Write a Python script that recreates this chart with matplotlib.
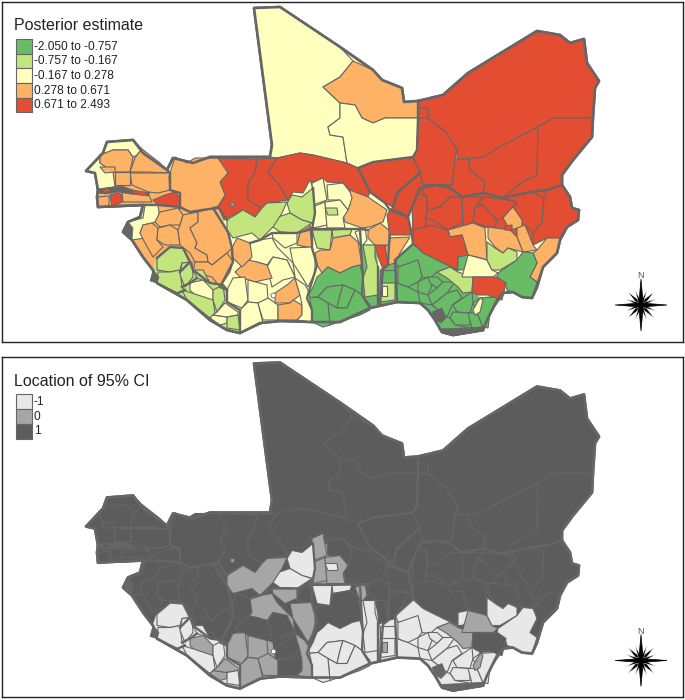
import matplotlib
matplotlib.use('Agg')
from matplotlib import pyplot as plt
from matplotlib.patches import Polygon, Rectangle

plt.rcParams['font.family'] = ['Liberation Sans', 'DejaVu Sans']

estimate_labels = ['-2.050 to -0.757', '-0.757 to -0.167', '-0.167 to 0.278', '0.278 to 0.671', '0.671 to 2.493']
estimate_colors = ['#69bc66', '#c2e57e', '#ffffbe', '#feb266', '#e34e32']
ci_labels = ['-1', '0', '1']
ci_colors = ['#e8e8e8', '#a6a6a6', '#5c5c5c']

# map outline, in map units
outline = [(254,8),(280,7),(340,47),(373,70),(382,80),(402,88),(404,102),(418,101),(443,95),(468,73),(537,31),
           (560,35),(570,43),(584,39),(587,63),(599,81),(595,88),(593,117),(592,137),(573,160),(562,175),(562,185),
           (570,197),(572,208),(579,210),(578,220),(567,227),(560,240),(557,253),(543,267),(537,287),(532,298),
           (522,297),(513,292),(503,293),(497,300),(487,320),(483,330),(453,335),(442,332),(435,320),(428,310),
           (420,303),(397,302),(370,308),(340,322),(313,322),(280,321),(260,323),(240,333),(227,330),(210,320),
           (187,300),(157,283),(153,270),(143,257),(132,240),(123,232),(128,222),(140,217),(143,205),(98,207),
           (97,197),(98,190),(95,173),(86,171),(103,153),(107,142),(133,140),(143,153),(167,170),(173,158),
           (193,163),(210,157),(270,157),(272,145)]

# large areas under the districts, so that no gap shows between them
backing_shapes = [
    [(143,205),(217,208),(228,232),(233,262),(220,287),(193,272),(190,262),(183,248),(170,247),(157,258),(153,270),(132,240),(145,238)],
    [(157,258),(170,247),(183,248),(190,262),(193,270),(210,283),(223,285),(227,290),(227,302),(240,310),(240,333),(227,330),(210,320),(187,300),(157,283),(153,270)],
    [(227,290),(233,278),(245,277),(255,282),(272,287),(275,303),(278,320),(260,323),(240,333),(240,310),(227,302)],
    [(395,260),(413,244),(458,270),(447,278),(458,287),(463,293),(472,292),(480,298),(503,295),(497,300),(487,320),(483,330),(453,335),(442,332),(435,320),(428,310),(420,303),(397,302)],
    [(412,207),(420,188),(437,185),(450,188),(462,197),(483,193),(503,198),(530,192),(547,190),(562,185),(570,197),(572,208),(579,210),(578,220),(567,227),(560,238),(547,238),(533,245),(517,237),(510,230),(488,227),(485,228),(473,223),(448,230),(413,243)],
    [(100,155),(133,157),(143,153),(167,170),(170,190),(180,207),(143,205),(98,207),(97,193),(115,187),(113,172)],
    [(313,188),(350,190),(350,205),(343,215),(345,228),(312,228)],
    [(363,245),(375,245),(378,267),(380,305),(370,308),(362,295),(363,277),(360,245)],
    [(380,269),(395,263),(397,302),(378,305)],
    [(418,101),(443,95),(428,118),(418,118)],
]
backing_estimate = [3, 1, 2, 0, 4, 3, 2, 0, 0, 4]
backing_ci = [2, 0, 1, 0, 2, 2, 1, 0, 0, 2]

# Sahel and Niger
north_shapes = [
    [(254,8),(280,7),(340,47),(353,61),(340,77),(323,87),(340,103),(340,118),(328,127),(330,135),(343,137),(347,163),(313,155),(300,153),(277,158),(270,157),(272,145)],
    [(353,61),(373,70),(382,80),(402,88),(404,102),(418,101),(418,118),(385,118),(373,123),(362,118),(355,105),(340,103),(323,87),(340,77)],
    [(340,103),(355,105),(362,118),(373,123),(385,118),(418,118),(417,150),(413,157),(373,162),(358,168),(347,163),(343,137),(330,135),(328,127),(340,118)],
    [(217,158),(257,159),(255,173),(248,183),(248,200),(262,208),(255,217),(243,210),(224,220),(218,207),(224,197),(220,182),(228,173)],
    [(257,159),(277,158),(268,173),(278,183),(288,200),(267,203),(262,208),(248,200),(248,183),(255,173)],
    [(277,158),(300,153),(313,155),(347,163),(358,168),(365,182),(370,192),(368,197),(350,190),(343,183),(327,182),(323,178),(313,188),(310,180),(303,193),(293,192),(288,200),(278,183),(268,173)],
    [(358,168),(373,162),(413,157),(420,173),(397,193),(393,207),(385,203),(370,192),(365,182)],
    [(418,118),(428,118),(447,133),(457,150),(455,160),(452,185),(423,185),(420,173),(413,157),(417,150)],
    [(418,101),(443,95),(468,73),(537,31),(560,35),(570,43),(584,39),(587,63),(599,81),(595,88),(593,118),(553,118),(538,127),(500,147),(483,157),(468,159),(457,159),(457,150),(447,133),(428,118),(428,108),(419,108)],
    [(468,159),(483,157),(500,147),(538,127),(537,175),(522,182),(503,198),(483,193),(485,182),(470,170)],
    [(553,118),(593,118),(592,137),(573,160),(562,175),(562,185),(547,190),(530,192),(503,198),(522,182),(537,175),(538,127)],
    [(457,159),(468,159),(470,170),(485,182),(483,193),(462,197),(450,188),(437,185),(452,185),(455,160)],
    [(397,193),(420,173),(423,185),(437,185),(420,188),(412,207),(408,217),(397,210),(390,210),(393,207)],
]
north_estimate = [2, 3, 2, 4, 4, 4, 4, 4, 4, 4, 4, 4, 4]
north_ci = [2] * 13

# northern and central Nigeria
nigeria_shapes = [
    [(412,207),(418,193),(427,197),(427,217),(425,227),(413,230)],
    [(420,188),(437,185),(450,188),(462,197),(450,197),(440,207),(428,210),(427,197)],
    [(440,207),(450,197),(462,197),(463,222),(448,230),(433,220),(425,218),(428,210)],
    [(462,197),(483,197),(478,203),(475,210),(473,222),(463,227)],
    [(475,207),(483,205),(497,220),(495,227),(487,227),(473,222)],
    [(483,197),(503,199),(517,202),(510,210),(503,218),(497,220),(483,205),(478,203)],
    [(503,198),(530,192),(544,197),(542,223),(533,233),(522,223),(522,220),(513,207),(517,202)],
    [(547,190),(562,185),(570,197),(572,208),(579,210),(578,220),(567,227),(560,238),(547,238),(533,245),(533,233),(542,223),(544,197)],
    [(513,207),(522,220),(522,227),(510,230),(503,218),(510,210)],
    [(517,228),(525,225),(533,245),(537,250),(523,252),(517,237)],
    [(488,227),(510,230),(517,237),(523,252),(508,248),(503,253),(495,247),(488,238)],
    [(448,230),(473,223),(485,228),(487,260),(477,257),(468,255),(462,235),(450,237)],
    [(560,238),(557,253),(543,267),(537,282),(530,277),(537,263),(533,253),(537,250),(547,238)],
    [(413,230),(425,227),(430,225),(448,230),(450,237),(462,235),(468,255),(458,257),(457,270),(443,263),(423,253),(413,243)],
    [(505,226),(512,225),(512,230),(505,230)],
]
nigeria_estimate = [4, 4, 4, 4, 4, 4, 4, 4, 3, 3, 3, 3, 3, 4, 4]
nigeria_ci = [2] * 15

# southern Nigeria and Benin
south_shapes = [
    [(395,260),(413,244),(423,253),(443,263),(458,270),(450,267),(437,272),(430,278),(422,277),(418,262),(398,267),(397,264)],
    [(398,267),(418,260),(422,277),(418,282),(408,287),(402,285),(398,283)],
    [(397,283),(402,285),(408,287),(418,292),(420,303),(397,302)],
    [(418,282),(428,277),(432,285),(428,295),(418,292)],
    [(428,277),(437,277),(443,282),(437,288),(430,283)],
    [(443,282),(455,282),(447,293),(432,305),(428,295),(437,288)],
    [(447,293),(457,290),(462,298),(452,305),(447,317),(438,310),(432,305)],
    [(463,298),(472,292),(473,303),(470,313),(457,312),(453,305)],
    [(453,312),(470,313),(470,325),(455,325),(450,318)],
    [(468,313),(477,313),(483,327),(472,328)],
    [(480,298),(493,297),(503,295),(490,313),(488,328),(483,327),(477,313),(473,303)],
    [(420,303),(432,305),(447,317),(450,318),(455,325),(472,328),(483,330),(453,335),(442,332),(435,320),(428,310)],
    [(437,272),(450,267),(458,272),(473,277),(472,292),(463,293),(458,287),(447,278)],
    [(458,257),(468,255),(470,265),(462,270),(458,270)],
    [(462,277),(468,255),(487,260),(492,270),(498,273),(493,277),(473,277)],
    [(487,242),(495,248),(503,253),(508,248),(517,252),(517,260),(500,270),(492,270),(487,260)],
    [(498,273),(517,260),(523,252),(533,253),(537,263),(530,277),(537,282),(532,298),(522,297),(513,292),(507,290),(505,283),(497,277)],
    [(473,277),(497,277),(506,283),(502,300),(488,295),(477,295),(472,292)],
    [(473,310),(480,298),(483,300),(480,312),(475,315)],
]
south_estimate = [0, 0, 0, 0, 0, 0, 0, 0, 0, 0, 0, 0, 1, 0, 2, 1, 0, 4, 2]
south_ci = [0, 0, 0, 0, 0, 0, 0, 0, 0, 0, 0, 0, 1, 0, 1, 0, 0, 2, 1]

# Benin, Togo and Ghana
ghana_shapes = [
    [(388,238),(410,237),(400,253),(395,263),(388,265),(385,250)],
    [(375,245),(385,245),(388,265),(383,269),(378,257)],
    [(368,230),(380,223),(389,230),(389,245),(375,245),(368,238)],
    [(390,210),(397,210),(408,217),(412,235),(390,235),(389,230),(387,215)],
    [(350,190),(368,197),(387,210),(383,222),(370,227),(362,228),(345,222),(343,215),(350,205)],
    [(363,245),(375,245),(375,257),(378,267),(378,295),(365,297),(363,278),(367,267)],
    [(380,270),(395,270),(395,283),(380,283)],
    [(380,283),(395,283),(395,300),(380,302)],
    [(382,286),(387,286),(387,296),(382,296)],
    [(355,232),(365,228),(367,240),(363,245),(360,245)],
    [(312,230),(332,230),(330,250),(317,248)],
    [(332,230),(352,229),(350,235),(333,238)],
    [(315,253),(320,250),(330,250),(333,238),(350,235),(358,242),(362,265),(352,267),(340,273),(328,267),(322,273),(317,265)],
    [(300,227),(310,225),(312,248),(298,245)],
    [(307,298),(313,287),(317,277),(322,273),(328,267),(340,273),(352,267),(360,265),(363,277),(362,295),(355,290),(343,285),(327,287),(318,297)],
    [(318,297),(327,287),(343,285),(340,295),(337,308),(328,303)],
    [(343,285),(355,290),(347,308),(337,308),(340,295)],
    [(355,290),(362,295),(370,305),(370,310),(360,315),(330,325),(328,303),(337,308),(347,308)],
    [(307,298),(318,297),(328,303),(330,325),(323,327),(312,322),(312,310)],
]
ghana_estimate = [3, 4, 3, 4, 3, 1, 0, 1, 2, 2, 1, 1, 3, 3, 0, 0, 0, 0, 0]
ghana_ci = [2, 2, 2, 2, 2, 0, 0, 0, 1, 1, 0, 0, 2, 2, 0, 0, 0, 0, 0]

# Burkina Faso
burkina_shapes = [
    [(312,183),(323,178),(327,200),(313,205)],
    [(327,185),(343,183),(350,192),(352,198),(348,210),(340,200),(328,200)],
    [(312,207),(325,202),(327,225),(313,228)],
    [(325,202),(340,200),(348,210),(343,218),(345,228),(327,228)],
    [(325,208),(337,208),(338,215),(328,215)],
    [(287,203),(292,195),(302,197),(313,188),(315,213),(313,223),(302,220),(290,213)],
    [(275,218),(290,213),(302,220),(312,223),(297,233),(280,232),(273,227)],
    [(272,233),(280,232),(297,233),(297,243),(285,248),(273,238)],
    [(310,227),(312,248),(297,245),(300,233)],
]
burkina_estimate = [2, 2, 2, 2, 1, 1, 1, 2, 3]
burkina_ci = [1, 2, 1, 1, 0, 0, 0, 1, 2]

# Cote d'Ivoire and the south of Mali
ivory_shapes = [
    [(227,220),(243,210),(255,217),(262,208),(267,203),(287,202),(282,213),(273,227),(270,230),(260,240),(252,233),(233,238),(227,230)],
    [(290,248),(312,247),(315,257),(315,273),(308,287),(302,277),(293,263)],
    [(250,243),(260,240),(272,238),(277,247),(293,263),(295,277),(287,260),(273,257),(267,265),(257,262),(250,263)],
    [(273,257),(287,260),(295,277),(283,280),(272,287),(267,267)],
    [(248,260),(257,262),(267,265),(272,278),(255,282),(240,277),(235,272)],
    [(232,248),(237,238),(250,243),(252,257),(242,267),(232,257)],
    [(227,290),(233,278),(245,277),(248,300),(242,308),(227,302)],
    [(248,280),(267,285),(268,300),(258,303),(248,302)],
    [(240,310),(248,302),(258,303),(263,323),(240,333)],
    [(258,303),(268,298),(278,305),(278,320),(263,320)],
    [(275,293),(287,285),(295,278),(300,295),(290,303),(275,303)],
    [(278,305),(290,303),(293,300),(302,305),(302,315),(297,320),(278,320)],
    [(295,278),(305,285),(308,290),(312,310),(312,322),(297,320),(302,315),(302,305),(300,295)],
]
ivory_estimate = [1, 2, 2, 2, 3, 3, 2, 2, 2, 2, 3, 3, 2]
ivory_ci = [1, 1, 1, 2, 2, 2, 1, 1, 1, 1, 2, 2, 1]

# Guinea and western Mali
guinea_shapes = [
    [(145,205),(158,205),(160,220),(152,223),(143,225),(140,233),(145,238),(132,240),(123,232),(128,222),(143,218)],
    [(160,212),(178,208),(183,215),(180,225),(170,225),(160,227),(155,222)],
    [(143,225),(152,223),(158,228),(157,240),(163,247),(153,257),(145,243),(140,233)],
    [(158,228),(170,225),(178,230),(180,245),(165,245),(157,240)],
    [(183,215),(198,212),(198,222),(190,228),(197,243),(195,248),(207,255),(208,262),(195,262),(190,253),(180,245),(178,230),(180,225)],
    [(198,212),(213,208),(222,223),(228,232),(232,248),(227,253),(212,265),(208,262),(207,255),(195,248),(197,243),(190,228),(198,222)],
    [(195,262),(208,262),(212,265),(227,253),(233,262),(230,272),(220,287),(212,277),(193,272)],
    [(175,157),(187,163),(195,158),(218,158),(228,173),(220,182),(225,195),(217,208),(202,210),(190,212),(180,208),(180,193),(170,190),(170,173)],
]
guinea_estimate = [2, 3, 3, 3, 3, 3, 3, 3]
guinea_ci = [2] * 8

# Sierra Leone and Liberia
liberia_shapes = [
    [(157,258),(170,247),(183,248),(190,262),(182,263),(180,270),(170,272),(157,270)],
    [(158,272),(170,272),(180,270),(182,287),(185,290),(178,293),(157,283)],
    [(182,263),(192,262),(193,277),(185,287),(180,275)],
    [(193,270),(203,270),(210,283),(197,278)],
    [(190,283),(203,280),(213,290),(213,300),(197,297),(190,290)],
    [(213,290),(223,285),(225,300),(217,312),(213,300)],
    [(182,290),(192,293),(213,300),(215,313),(210,318),(187,300)],
    [(213,315),(227,317),(227,323),(220,325),(210,318)],
    [(217,312),(225,303),(238,312),(238,315),(227,317),(213,315)],
    [(227,317),(238,315),(240,330),(227,328)],
]
liberia_estimate = [1, 1, 1, 1, 2, 1, 1, 2, 2, 1]
liberia_ci = [0, 0, 0, 0, 1, 0, 0, 1, 1, 0]

# Senegal, Gambia and Guinea-Bissau
senegal_shapes = [
    [(103,153),(107,142),(133,140),(142,149),(137,155),(133,157),(128,150),(113,150),(100,155)],
    [(86,171),(100,155),(100,163),(113,172),(115,187),(98,190),(95,173)],
    [(100,155),(113,150),(128,150),(133,157),(130,172),(113,172),(100,163)],
    [(135,158),(142,149),(160,163),(167,170),(170,173),(148,172),(130,172)],
    [(130,173),(170,173),(169,177),(170,190),(158,193),(148,192),(132,185)],
    [(115,172),(130,172),(130,185),(115,185)],
    [(110,195),(118,193),(122,195),(122,202),(112,207)],
    [(98,197),(109,196),(109,207),(98,207)],
    [(122,192),(148,193),(152,202),(123,202)],
    [(153,200),(165,195),(175,192),(180,197),(180,207),(158,205)],
    [(100,167),(115,167),(115,172),(105,173)],
]
senegal_estimate = [2, 2, 3, 3, 3, 3, 4, 3, 3, 4, 3]
senegal_ci = [2] * 11

all_shapes = (north_shapes + nigeria_shapes + south_shapes + ghana_shapes + burkina_shapes
              + ivory_shapes + guinea_shapes + liberia_shapes + senegal_shapes)
all_estimate = (north_estimate + nigeria_estimate + south_estimate + ghana_estimate + burkina_estimate
                + ivory_estimate + guinea_estimate + liberia_estimate + senegal_estimate)
all_ci = (north_ci + nigeria_ci + south_ci + ghana_ci + burkina_ci
          + ivory_ci + guinea_ci + liberia_ci + senegal_ci)

# country borders, drawn thicker than the districts
borders = [
    [(418,101),(418,118),(417,150),(413,157),(373,162),(358,168),(365,182),(370,192),(385,203),(390,210)],
    [(420,173),(397,193),(393,207)],
    [(562,185),(547,190),(530,192),(503,198),(483,193),(462,197),(450,188),(437,185),(420,188),(412,207),(408,217),(412,235),(413,244),(395,260),(397,302)],
    [(390,210),(408,217)],
    [(312,229),(360,229),(368,230)],
    [(313,188),(315,213),(312,229),(297,233),(272,233),(260,240),(250,243)],
    [(312,229),(312,248),(317,265),(307,298),(312,310),(312,322)],
    [(360,229),(362,265),(363,277),(362,295),(370,308)],
    [(378,267),(378,305)],
    [(390,235),(389,245),(388,265),(383,269),(380,305)],
    [(227,220),(218,207),(213,208),(228,232),(232,248),(233,262),(220,287),(227,290),(227,302),(240,310),(240,333)],
    [(143,205),(158,205),(180,207),(190,212),(202,210),(217,208)],
    [(180,272),(190,262),(193,270),(210,283),(223,285),(227,290)],
    [(157,258),(170,247),(183,248),(190,262)],
    [(185,290),(178,293)],
    [(182,287),(190,283),(197,278)],
    [(98,207),(143,205)],
    [(180,208),(180,193),(170,190),(170,173),(167,170)],
]
strip_shapes = [
    [(97,189),(112,187),(122,186),(133,190),(150,193),(148,196),(130,194),(118,192),(106,194),(97,193)],
    [(432,312),(442,308),(446,318),(441,323),(436,320)],
    [(439,329),(484,327),(484,331),(453,336),(442,333)],
    [(123,232),(128,222),(133,228),(132,240)],
    [(153,270),(159,277),(157,283),(150,281)],
]
strip_reds = [[(104,190),(109,189),(109,191),(104,192)], [(134,191),(146,193),(145,195),(134,193)]]
lake_ring = (232, 204)
lake_dot = (273, 295)

# compass rose, as offsets from its centre
rose_main = [[(0,-26),(2.3,0),(0,26),(-2.3,0)], [(-26,0),(0,-2),(26,0),(0,2)]]
rose_diag = [[(-13,-13),(1.8,-1.8),(13,13),(-1.8,1.8)], [(13,-13),(1.8,1.8),(-13,13),(-1.8,-1.8)],
             [(-6,-15),(1.5,-1),(6,15),(-1.5,1)], [(6,-15),(1.5,1),(-6,15),(-1.5,-1)],
             [(-15,-6),(1,-1.5),(15,6),(-1,1.5)], [(15,-6),(1,1.5),(-15,6),(-1,-1.5)]]
rose_centre = (641, 305)

edge = '#666666'


def draw_map(ax, classes, back_classes, colors, title, labels):
    ax.add_patch(Polygon(outline, closed=True, fc=colors[2], ec=edge, lw=1.9, joinstyle='round'))
    for shape, c in zip(backing_shapes, back_classes):
        ax.add_patch(Polygon(shape, closed=True, fc=colors[c], ec=colors[c], lw=0.5))
    for shape, c in zip(all_shapes, classes):
        ax.add_patch(Polygon(shape, closed=True, fc=colors[c], ec=edge, lw=0.8, joinstyle='round'))
    for line in borders:
        ax.plot([p[0] for p in line], [p[1] for p in line], color=edge, lw=1.7, solid_joinstyle='round')
    for shape in strip_shapes:
        ax.add_patch(Polygon(shape, closed=True, fc=edge, ec=edge, lw=0.5))
    for shape in strip_reds:
        ax.add_patch(Polygon(shape, closed=True, fc=colors[-1], ec=colors[-1], lw=0.3))
    ax.plot(*lake_ring, 'o', ms=3, mfc='#999999', mec=edge, mew=0.6)
    ax.plot(*lake_dot, 'o', ms=3.5, mfc='white', mec=edge, mew=0.6)
    ax.add_patch(Polygon(outline, closed=True, fc='none', ec=edge, lw=1.9, joinstyle='round'))

    # legend
    ax.text(14, 26, title, fontsize=11.5, color='#222222', va='center', ha='left')
    for i, (lab, col) in enumerate(zip(labels, colors)):
        y = 39 + i * 14.7
        ax.add_patch(Rectangle((15.5, y), 16, 14.7, fc=col, ec=edge, lw=0.8))
        ax.text(34, y + 7.5, lab, fontsize=8.6, color='#222222', va='center', ha='left')

    # north arrow
    cx, cy = rose_centre
    for shape in rose_diag:
        ax.add_patch(Polygon([(cx + a, cy + b) for a, b in shape], closed=True, fc='black', ec='white', lw=0.3))
    for shape in rose_main:
        ax.add_patch(Polygon([(cx + a, cy + b) for a, b in shape], closed=True, fc='black', ec='black', lw=0.5))
    ax.text(cx - 0.5, cy - 29, 'N', fontsize=6.5, color='#44526a', ha='center', va='center')

    ax.set_xticks([])
    ax.set_yticks([])
    for s in ax.spines.values():
        s.set_linewidth(1.0)
        s.set_color('#222222')


fig = plt.figure(figsize=(6.85, 7.0), dpi=100)
W, H = 685.0, 700.0

ax1 = fig.add_axes([2 / W, 1 - 342 / H, 681 / W, 340 / H])
ax1.set_xlim(2, 683)
ax1.set_ylim(342, 2)
draw_map(ax1, all_estimate, backing_estimate, estimate_colors, 'Posterior estimate', estimate_labels)

ax2 = fig.add_axes([2 / W, 1 - 697 / H, 681 / W, 340 / H])
ax2.set_xlim(2, 683)
ax2.set_ylim(341.5, 1.5)
draw_map(ax2, all_ci, backing_ci, ci_colors, 'Location of 95% CI', ci_labels)

fig.savefig('out.png', dpi=100)
